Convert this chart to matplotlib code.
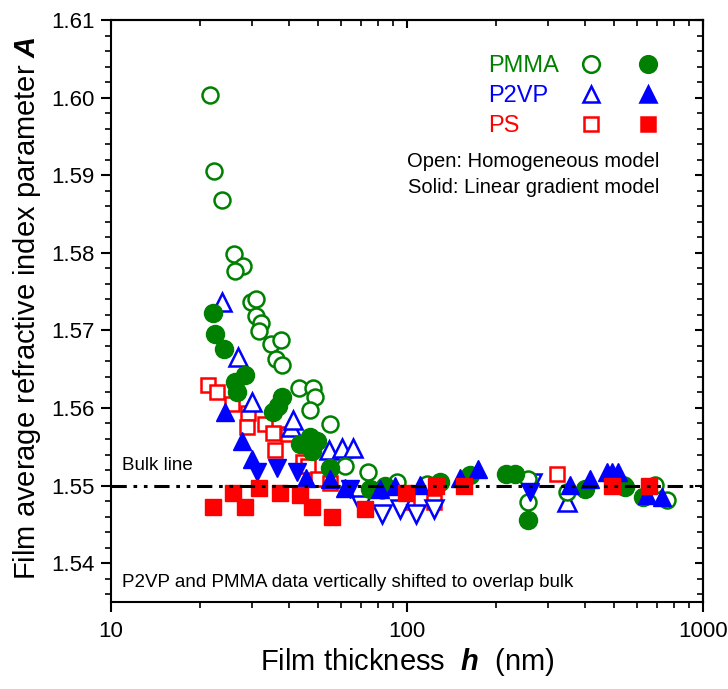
import numpy as np
import matplotlib
matplotlib.use("Agg")
from matplotlib import pyplot as plt
from matplotlib.lines import Line2D
from matplotlib.ticker import MultipleLocator, FormatStrFormatter

plt.rcParams['font.family'] = ['Liberation Sans', 'DejaVu Sans']
plt.rcParams['mathtext.fontset'] = 'custom'
plt.rcParams['mathtext.rm'] = 'Liberation Sans'
plt.rcParams['mathtext.it'] = 'Liberation Sans:italic'
plt.rcParams['mathtext.bf'] = 'Liberation Sans:bold'
plt.rcParams['mathtext.bfit'] = 'Liberation Sans:bold:italic'

BULK = 1.55

# PMMA (green circles)
pmma_open_h = [21.6, 22.3, 23.7, 26.0, 27.9, 26.2, 29.7, 31.0, 30.9, 32.1, 31.6, 34.6, 37.4, 36.1,
               37.7, 43.0, 48.2, 48.9, 47.0, 54.9, 61.9, 73.9, 82.2, 92.4, 117, 256, 256, 347,
               540, 688, 755]
pmma_open_A = [1.6003, 1.5906, 1.5868, 1.5799, 1.5783, 1.5776, 1.5737, 1.5740, 1.5718, 1.5710,
               1.5699, 1.5682, 1.5688, 1.5663, 1.5655, 1.5626, 1.5626, 1.5614, 1.5598, 1.5579,
               1.5525, 1.5517, 1.5494, 1.5504, 1.5502, 1.5509, 1.5479, 1.5492, 1.5501, 1.5501,
               1.5482]
pmma_fill_h = [22.1, 22.4, 24.1, 28.4, 26.2, 26.6, 37.8, 36.7, 35.3, 47.0, 46.3, 49.7, 43.5, 47.7,
               54.9, 75, 84, 129, 163, 216, 232, 256, 399, 545, 627]
pmma_fill_A = [1.5723, 1.5695, 1.5676, 1.5643, 1.5634, 1.5621, 1.5614, 1.5602, 1.5595, 1.5563,
               1.5557, 1.5557, 1.5553, 1.5544, 1.5523, 1.5496, 1.5500, 1.5505, 1.5514, 1.5515,
               1.5515, 1.5456, 1.5496, 1.5498, 1.5485]

# P2VP (blue triangles, up and down)
p2vp_open_up_h = [23.7, 26.9, 29.9, 40.4, 41.2, 54.3, 60.4, 65.5, 347]
p2vp_open_up_A = [1.5737, 1.5666, 1.5608, 1.5576, 1.5585, 1.5546, 1.5549, 1.5549, 1.5479]
p2vp_open_dn_h = [70, 82.2, 94.7, 107, 123, 264]
p2vp_open_dn_A = [1.5475, 1.5464, 1.5470, 1.5464, 1.5470, 1.5503]
p2vp_fill_up_h = [24.3, 27.7, 29.9, 45.5, 54.9, 61.9, 81, 91, 110.6, 151, 174, 356, 415, 474,
                  493, 516, 647, 727]
p2vp_fill_up_A = [1.5595, 1.5557, 1.5534, 1.5510, 1.5508, 1.5497, 1.5495, 1.5499, 1.5501,
                  1.5510, 1.5521, 1.5501, 1.5508, 1.5517, 1.5518, 1.5517, 1.5488, 1.5485]
p2vp_fill_dn_h = [31.1, 36.4, 42.4, 64, 260]
p2vp_fill_dn_A = [1.5517, 1.5523, 1.5517, 1.5495, 1.5492]

# PS (red squares)
ps_open_h = [21.3, 22.8, 25.6, 29.0, 28.7, 33.1, 35.3, 39.6, 35.8, 44.5, 46.3, 50.0, 54.9, 100,
             123, 321]
ps_open_A = [1.5630, 1.5621, 1.5605, 1.5594, 1.5576, 1.5579, 1.5568, 1.5566, 1.5546, 1.5530,
             1.5525, 1.5508, 1.5503, 1.5479, 1.5479, 1.5515]
ps_fill_h = [22.1, 25.8, 28.4, 31.6, 37.2, 43.5, 47.7, 55.7, 72.1, 99, 125, 156, 493, 658]
ps_fill_A = [1.5472, 1.5491, 1.5473, 1.5497, 1.5491, 1.5488, 1.5473, 1.5460, 1.5470, 1.5490,
             1.5499, 1.5499, 1.5500, 1.5500]

GREEN = '#008000'
BLUE = '#0000ff'
RED = '#ff0000'

fig = plt.figure(figsize=(7.28, 6.89), dpi=100)
ax = fig.add_axes([0.1525, 0.1263, 0.8132, 0.8447])

mew = 1.8
open_kw = dict(linestyle='none', mfc='white', mew=mew)
ax.plot(ps_open_h, ps_open_A, marker='s', ms=10.5, mec=RED, **open_kw)
ax.plot(p2vp_open_up_h, p2vp_open_up_A, marker='^', ms=12.5, mec=BLUE, **open_kw)
ax.plot(p2vp_open_dn_h, p2vp_open_dn_A, marker='v', ms=12.5, mec=BLUE, **open_kw)
ax.plot(pmma_open_h, pmma_open_A, marker='o', ms=11.5, mec=GREEN, **open_kw)
ax.plot(pmma_fill_h, pmma_fill_A, marker='o', ms=13, color=GREEN, linestyle='none')
ax.plot(p2vp_fill_up_h, p2vp_fill_up_A, marker='^', ms=13, color=BLUE, linestyle='none')
ax.plot(p2vp_fill_dn_h, p2vp_fill_dn_A, marker='v', ms=13, color=BLUE, linestyle='none')
ax.plot(ps_fill_h, ps_fill_A, marker='s', ms=11.5, color=RED, linestyle='none')

ax.axhline(BULK, color='black', lw=2.2, dashes=(5, 2.2, 1.2, 2.2, 1.2, 2.2), zorder=5)

ax.set_xscale('log')
ax.set_xlim(10, 1000)
ax.set_ylim(1.535, 1.61)
ax.yaxis.set_major_locator(MultipleLocator(0.01))
ax.yaxis.set_minor_locator(MultipleLocator(0.002))
ax.yaxis.set_major_formatter(FormatStrFormatter('%.2f'))
ax.xaxis.set_major_formatter(FormatStrFormatter('%d'))

for s in ax.spines.values():
    s.set_linewidth(1.5)
ax.tick_params(which='major', direction='out', length=7, width=1.5, labelsize=16, pad=5)
ax.tick_params(which='minor', direction='out', length=4.5, width=1.2)
ax.tick_params(axis='x', which='major', pad=7)

# inward ticks on top and right
top = ax.secondary_xaxis('top')
top.tick_params(which='major', direction='in', length=6, width=1.5, labeltop=False)
top.tick_params(which='minor', direction='in', length=4, width=1.2)
top.spines['top'].set_linewidth(1.5)
right = ax.secondary_yaxis('right')
right.yaxis.set_major_locator(MultipleLocator(0.01))
right.yaxis.set_minor_locator(MultipleLocator(0.002))
right.tick_params(which='major', direction='in', length=6, width=1.5, labelright=False)
right.tick_params(which='minor', direction='in', length=4, width=1.2)
right.spines['right'].set_linewidth(1.5)

ax.set_xlabel(r'Film thickness  $\mathbfit{h}$  (nm)', fontsize=21)
ax.set_ylabel(r'Film average refractive index parameter $\mathbfit{A}$', fontsize=21)
ax.xaxis.set_label_coords(0.5, -0.075)
ax.yaxis.set_label_coords(-0.115, 0.505)

# legend: label column, open column, solid column
blank = Line2D([], [], linestyle='none')
mk = lambda m, c, filled: Line2D([], [], linestyle='none', marker=m, ms=12 if m != 's' else 10.5,
                                 mec=c, mfc=c if filled else 'white', mew=mew)
handles = [blank, blank, blank,
           mk('o', GREEN, False), mk('^', BLUE, False), mk('s', RED, False),
           mk('o', GREEN, True), mk('^', BLUE, True), mk('s', RED, True)]
labels = ['PMMA', 'P2VP', 'PS', ' ', ' ', ' ', '', '', '']
leg = ax.legend(handles, labels, ncol=3, frameon=False, fontsize=17, handlelength=1.2,
                handletextpad=0.2, columnspacing=0.75, labelspacing=0.35, borderpad=0,
                borderaxespad=0, loc='upper left', bbox_to_anchor=(0.581, 0.940))
for t, c in zip(leg.get_texts()[:3], [GREEN, BLUE, RED]):
    t.set_color(c)

ax.text(0.926, 0.757, 'Open: Homogeneous model', transform=ax.transAxes, fontsize=14.5,
        va='center', ha='right')
ax.text(0.926, 0.712, 'Solid: Linear gradient model', transform=ax.transAxes, fontsize=14.5,
        va='center', ha='right')
ax.text(0.0186, 0.2346, 'Bulk line', transform=ax.transAxes, fontsize=13.5,
        va='center', ha='left')
ax.text(0.0186, 0.034, 'P2VP and PMMA data vertically shifted to overlap bulk',
        transform=ax.transAxes, fontsize=13.5, va='center', ha='left')

fig.savefig('out.png', dpi=100)
